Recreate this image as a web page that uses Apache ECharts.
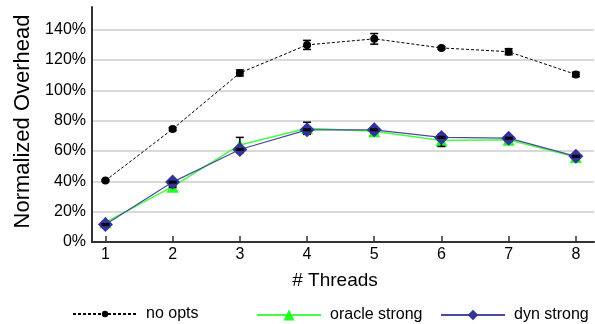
<!DOCTYPE html>
<html>
<head>
<meta charset="utf-8">
<script src="https://cdn.jsdelivr.net/npm/echarts@6/dist/echarts.min.js"></script>
<style>
	html, body { margin: 0; padding: 0; background: #fff; }
	#chart { width: 595px; height: 324px; }
</style>
</head>
<body>
<div id="chart"></div>
<script>
var threads = [1, 2, 3, 4, 5, 6, 7, 8];
var yTicks = [0, 20, 40, 60, 80, 100, 120, 140];

var noOpts = [40.5, 74.5, 111.5, 130, 134, 128, 125.5, 110.5];
var noOptsErr = [0.5, 1, 2, 3, 3.5, 0.8, 2, 1.5];
var oracleStrong = [13, 36.5, 64, 75, 73, 67, 67.5, 56];
var oracleErr = [0.5, 0.5, 5, 4, 1, 4, 1, 1];
var dynStrong = [11.5, 39.5, 61, 74, 74, 69, 68.5, 56.5];
var dynErr = [0.5, 0.5, 0.5, 0.5, 0.5, 0.5, 0.5, 0.5];

var font = 'Liberation Sans, Arial, Helvetica, sans-serif';

function pairs(vals){
	return threads.map(function(t, i){ return [t, vals[i]]; });
}
function errData(vals, errs){
	return threads.map(function(t, i){ return [t, vals[i] - errs[i], vals[i] + errs[i]]; });
}
function errorBars(vals, errs, z){
	return {
		type: 'custom',
		z: z,
		silent: true,
		data: errData(vals, errs),
		renderItem: function(params, api){
			var lo = api.coord([api.value(0), api.value(1)]);
			var hi = api.coord([api.value(0), api.value(2)]);
			var w = 4;
			var st = { stroke: '#000', lineWidth: 1.5 };
			return {
				type: 'group',
				children: [
					{ type: 'line', shape: { x1: lo[0], y1: lo[1], x2: hi[0], y2: hi[1] }, style: st },
					{ type: 'line', shape: { x1: lo[0] - w, y1: lo[1], x2: lo[0] + w, y2: lo[1] }, style: st },
					{ type: 'line', shape: { x1: hi[0] - w, y1: hi[1], x2: hi[0] + w, y2: hi[1] }, style: st }
				]
			};
		}
	};
}
// one legend per item so each sits where the reference has it
function legendAt(name, left, top, h){
	return {
		data: [name],
		left: left,
		top: top,
		itemWidth: 64,
		itemHeight: h,
		itemGap: 0,
		textStyle: { fontFamily: font, fontSize: 16, color: '#000', padding: [0, 0, 0, 4] }
	};
}

var chart = echarts.init(document.getElementById('chart'));
var option = {
	animation: false,
	grid: { left: 92, right: 1, top: 7, bottom: 82 },
	legend: [
		legendAt('no opts', 67, 301, 8),
		legendAt('oracle strong', 251, 302, 14),
		legendAt('dyn strong', 435, 302, 13)
	],
	xAxis: {
		type: 'value',
		min: 0.8,
		max: 8.27,
		name: '# Threads',
		nameLocation: 'middle',
		nameGap: 29,
		nameTextStyle: { fontFamily: font, fontSize: 19, color: '#000', padding: [0, 16, 0, 0] },
		axisLine: { lineStyle: { color: '#333', width: 2 } },
		axisTick: { inside: true, length: 6, customValues: threads, lineStyle: { color: '#333', width: 1.5 } },
		axisLabel: { customValues: threads, fontFamily: font, fontSize: 16, color: '#000', margin: 5 },
		splitLine: { show: false }
	},
	yAxis: {
		type: 'value',
		min: 0,
		max: 155,
		interval: 20,
		name: 'Normalized Overhead',
		nameLocation: 'middle',
		nameGap: 58,
		nameTextStyle: { fontFamily: font, fontSize: 22, color: '#000', padding: [0, 0, 0, 6] },
		axisLine: { show: true, lineStyle: { color: '#333', width: 2 } },
		axisTick: { show: false },
		axisLabel: {
			customValues: yTicks,
			fontFamily: font, fontSize: 16, color: '#000', margin: 6,
			formatter: '{value}%'
		},
		splitLine: { showMaxLine: false, lineStyle: { color: '#cccccc', width: 1.5 } }
	},
	series: [
		{
			name: 'no opts',
			type: 'line',
			data: pairs(noOpts),
			z: 3,
			symbol: 'circle',
			symbolSize: 8,
			itemStyle: { color: '#000' },
			lineStyle: { color: '#000', width: 1, type: [3, 2] }
		},
		errorBars(noOpts, noOptsErr, 4),
		{
			name: 'oracle strong',
			type: 'line',
			data: pairs(oracleStrong),
			z: 5,
			symbol: 'triangle',
			symbolSize: 12,
			itemStyle: { color: '#22ff22' },
			lineStyle: { color: '#44ff44', width: 1.5 }
		},
		errorBars(oracleStrong, oracleErr, 6),
		{
			name: 'dyn strong',
			type: 'line',
			data: pairs(dynStrong),
			z: 7,
			symbol: 'diamond',
			symbolSize: 15,
			itemStyle: { color: '#333399' },
			lineStyle: { color: '#4a4aa0', width: 1.2 }
		},
		errorBars(dynStrong, dynErr, 8)
	]
};
chart.setOption(option);
</script>
</body>
</html>
